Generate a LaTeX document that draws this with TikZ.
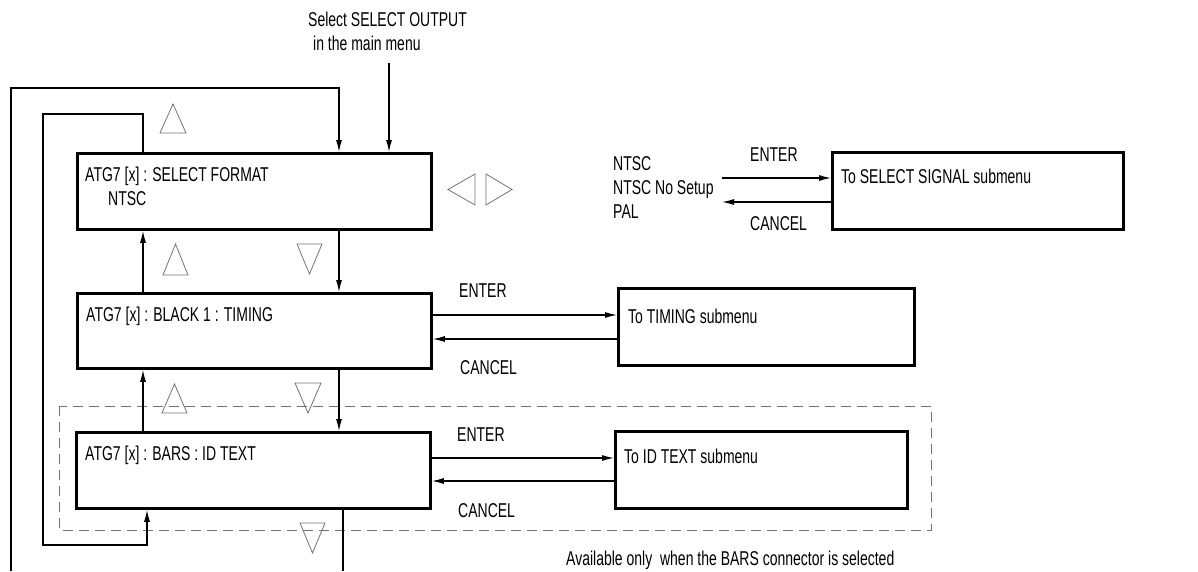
\documentclass[tikz,border=0pt]{standalone}
\usepackage{fontspec}
\setmainfont{Liberation Sans}[FakeStretch=0.70]
\usetikzlibrary{arrows.meta}
\begin{document}
\begin{tikzpicture}[x=1pt,y=-1pt,
  box/.style={draw,line width=2.8pt,anchor=north west,inner sep=0pt},
  txt/.style={anchor=base west,inner sep=0pt,font=\fontsize{20}{24}\selectfont},
  conn/.style={line width=1.2pt},
  arr/.style={conn,-{Latex[length=12pt,width=6pt]}},
  tri/.style={draw=black!55,line width=0.8pt,line join=miter},
  dashbox/.style={draw=black!55,line width=1pt,dash pattern=on 10pt off 6pt}]
\useasboundingbox (0,0) rectangle (1198,571);
% main boxes
\node[box,minimum width=354pt,minimum height=76pt] (b1) at (76,152) {};
\node[box,minimum width=354pt,minimum height=75pt] (b2) at (76,292) {};
\node[box,minimum width=354pt,minimum height=76pt] (b3) at (75,431) {};
% submenu boxes
\node[box,minimum width=291pt,minimum height=77pt] (r1) at (831,151) {};
\node[box,minimum width=296pt,minimum height=77pt] (r2) at (617,287) {};
\node[box,minimum width=292pt,minimum height=77pt] (r3) at (614,430) {};
% dashed region
\draw[dashbox] (59,406) rectangle (931,530);
% texts
\node[txt] (t1) at (85,181) {ATG7 [x] : SELECT FORMAT};
\node[txt] (t1b) at (108,205) {NTSC};
\node[txt] (t2) at (86,321) {ATG7 [x] : BLACK 1 : TIMING};
\node[txt] (t3) at (85,460) {ATG7 [x] : BARS : ID TEXT};
\node[txt] (rt1) at (841,183) {To SELECT SIGNAL submenu};
\node[txt] (rt2) at (628,323) {To TIMING submenu};
\node[txt] (rt3) at (624,463) {To ID TEXT submenu};
\node[txt] (sel1) at (308,26) {Select SELECT OUTPUT};
\node[txt] (sel2) at (313,50) {in the main menu};
\node[txt] (o1) at (613,170) {NTSC};
\node[txt] (o2) at (613,194) {NTSC No Setup};
\node[txt] (o3) at (613,218) {PAL};
\node[txt] (en1) at (750,161) {ENTER};
\node[txt] (ca1) at (750,230) {CANCEL};
\node[txt] (en2) at (459,297) {ENTER};
\node[txt] (ca2) at (460,374) {CANCEL};
\node[txt] (en3) at (457,441) {ENTER};
\node[txt] (ca3) at (458,517) {CANCEL};
\node[txt] (avail) at (566,565) {Available only\ \ when the BARS connector is selected};
% helper coordinates
\coordinate (xA) at (143,0);
\coordinate (xB) at (339,0);
\coordinate (xC) at (343,0);
\coordinate (xD) at (147,0);
\coordinate (xM) at (389,0);
\coordinate (mstart) at (389,63);
\coordinate (i1) at (43,114);
\coordinate (i2) at (43,545);
\coordinate (ol0) at (11,571);
\coordinate (ol1) at (11,88);
\coordinate (ob) at (343,571);
\coordinate (e1) at (722,178);
\coordinate (c1) at (722,202);
\coordinate (e2) at (0,315);
\coordinate (c2) at (0,339);
\coordinate (e3) at (0,458);
\coordinate (c3) at (0,481);
% vertical flow
\draw[arr] (mstart) -- (b1.north -| xM);
\draw[arr] (b1.south -| xB) -- (b2.north -| xB);
\draw[arr] (b2.south -| xB) -- (b3.north -| xB);
\draw[arr] (b2.north -| xA) -- (b1.south -| xA);
\draw[arr] (b3.north -| xA) -- (b2.south -| xA);
\draw[conn] (b3.south -| xC) -- (ob);
\draw[arr] (ol0) -- (ol1) -| (b1.north -| xB);
\draw[arr] (b1.north -| xA) |- (i1) -- (i2) -| (b3.south -| xD);
% enter / cancel
\draw[arr] (e1) -- (r1.west |- e1);
\draw[arr] (r1.west |- c1) -- (c1);
\draw[arr] (b2.east |- e2) -- (r2.west |- e2);
\draw[arr] (r2.west |- c2) -- (b2.east |- c2);
\draw[arr] (b3.east |- e3) -- (r3.west |- e3);
\draw[arr] (r3.west |- c3) -- (b3.east |- c3);
% triangles
\draw[tri] (160,133) -- (186,133) -- (173,104) -- cycle;
\draw[tri] (163,275) -- (188,275) -- (175.5,244) -- cycle;
\draw[tri] (297,244) -- (322,244) -- (309.5,274) -- cycle;
\draw[tri] (162,413) -- (187,413) -- (174.5,384) -- cycle;
\draw[tri] (295,383) -- (321,383) -- (308,413) -- cycle;
\draw[tri] (300,523) -- (325,523) -- (312.5,553) -- cycle;
\draw[tri] (475,174) -- (475,205) -- (448,189.5) -- cycle;
\draw[tri] (486,174) -- (486,205) -- (512,189.5) -- cycle;
\end{tikzpicture}
\end{document}
